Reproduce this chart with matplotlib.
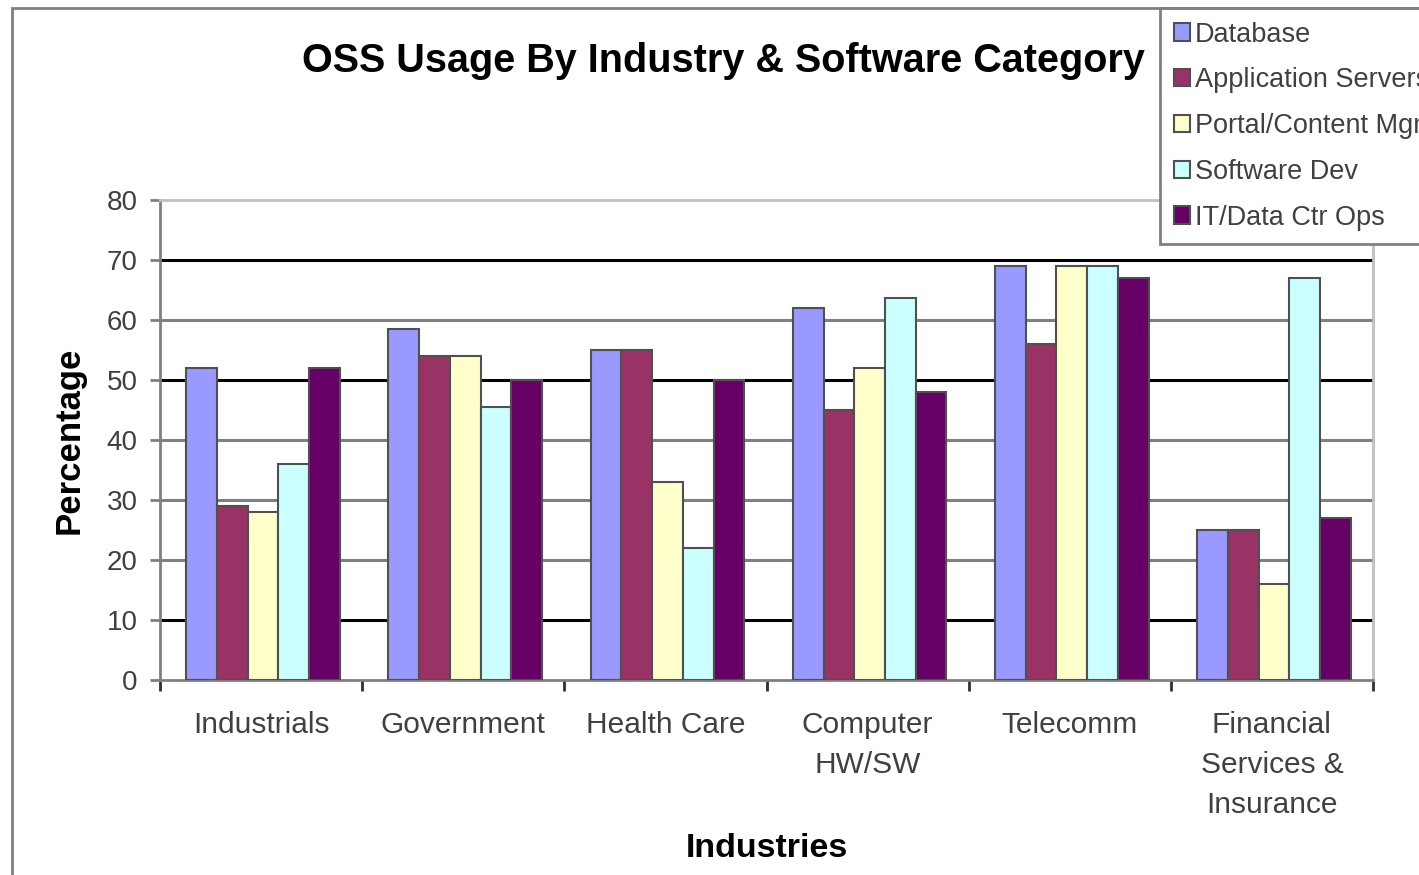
import matplotlib.pyplot as plt
import numpy as np
from matplotlib.patches import Rectangle

industrias = ['Industrials', 'Government', 'Health Care', 'Computer\nHW/SW', 'Telecomm',
              'Financial\nServices &\nInsurance']
categorias = ['Database', 'Application Servers', 'Portal/Content Mgmt', 'Software Dev', 'IT/Data Ctr Ops']

database = [52, 58.5, 55, 62, 69, 25]
app_server = [29, 54, 55, 45, 56, 25]
portal = [28, 54, 33, 52, 69, 16]
software_dev = [36, 45.5, 22, 63.7, 69, 67]
it_ops = [52, 50, 50, 48, 67, 27]

series = [database, app_server, portal, software_dev, it_ops]
colores = ['#9999FF', '#993366', '#FFFFCC', '#CCFFFF', '#660066']
y_ticks = [0, 10, 20, 30, 40, 50, 60, 70, 80]

plt.rcParams['font.family'] = ['Liberation Sans', 'DejaVu Sans']

fig = plt.figure(figsize=(14.19, 8.75), dpi=100)
ax = fig.add_axes([160/1419, 1 - 680/875, (1373-160)/1419, 480/875])

# marco exterior del grafico
fig.patches.append(Rectangle((12/1419, -0.1), 1.2, 1.1 - 8/875,
                             transform=fig.transFigure, fill=False,
                             edgecolor='#808080', linewidth=2, zorder=0))

x = np.arange(len(industrias))
ancho = 0.152
for i, (valores, color) in enumerate(zip(series, colores)):
    pos = x + (i - 2) * ancho + 0.01
    ax.bar(pos, valores, width=ancho, color=color, edgecolor='#505050',
           linewidth=1.5, label=categorias[i], zorder=3)

# lineas de cuadricula
for v in y_ticks[1:-1]:
    c = 'black' if v in (10, 50, 70) else '#808080'
    ax.axhline(v, color=c, linewidth=2.2, zorder=1)

ax.set_xlim(-0.5, len(industrias) - 0.5)
ax.set_ylim(0, 80)
ax.set_yticks(y_ticks)
ax.set_xticks(x)
ax.set_xticklabels(industrias, linespacing=1.55)
ax.set_xticks(np.arange(len(industrias) + 1) - 0.5, minor=True)
ax.tick_params(axis='x', which='major', length=0, pad=22, labelsize=21.5, labelcolor='#404040')
ax.tick_params(axis='x', which='minor', length=8, width=2, color='#303030', direction='out')
ax.tick_params(axis='y', length=7, width=2, color='#808080', pad=9, labelsize=20, labelcolor='#404040')

ax.spines['left'].set_color('#808080')
ax.spines['bottom'].set_color('#808080')
ax.spines['top'].set_color('#C0C0C0')
ax.spines['right'].set_color('#C0C0C0')
for s in ax.spines.values():
    s.set_linewidth(2)

ax.set_xlabel('Industries', fontsize=24.5, fontweight='bold', labelpad=10)
ax.set_ylabel('Percentage', fontsize=25, fontweight='bold', labelpad=15)

fig.text(723/1419, 1 - 61/875, 'OSS Usage By Industry & Software Category',
         ha='center', va='center', fontsize=28.5, fontweight='bold')

leg = ax.legend(loc='upper left', bbox_to_anchor=(1160/1419, 1 - 8/875),
                bbox_transform=fig.transFigure, borderaxespad=0, fontsize=19.5,
                handlelength=0.6, handleheight=0.6, handletextpad=0.2,
                labelspacing=0.73, borderpad=0.5, fancybox=False, framealpha=1)
leg.get_frame().set_edgecolor('#808080')
leg.get_frame().set_linewidth(2)
for t in leg.get_texts():
    t.set_color('#404040')

plt.savefig('out.png', dpi=100)
